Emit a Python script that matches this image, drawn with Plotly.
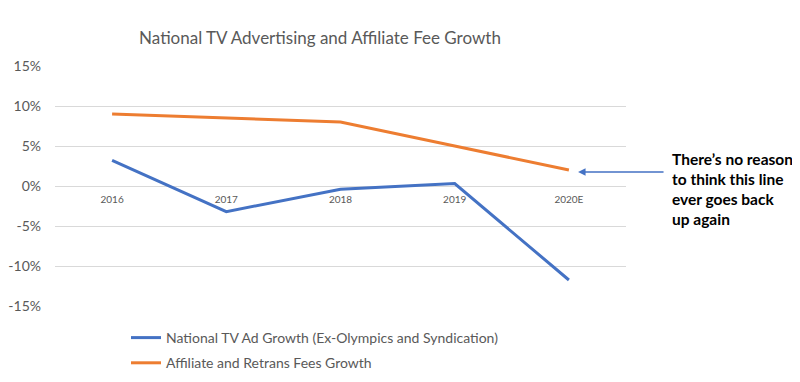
import plotly.graph_objects as go

categories = ["2016", "2017", "2018", "2019", "2020E"]
ad_growth = [3.2, -3.2, -0.4, 0.3, -11.75]
fee_growth = [9.0, 8.5, 8.0, 5.0, 2.0]
y_ticks = [15, 10, 5, 0, -5, -10, -15]
y_tick_labels = ["15%", "10%", "5%", "0%", "-5%", "-10%", "-15%"]

BLUE = "#4472C4"
ORANGE = "#ED7D31"
GREY = "#595959"
FONT = "Lato"

fig = go.Figure()
fig.add_trace(go.Scatter(x=categories, y=ad_growth, mode="lines",
                         name="National TV Ad Growth (Ex-Olympics and Syndication)",
                         legendgroup="a",
                         line=dict(color=BLUE, width=3)))
fig.add_trace(go.Scatter(x=categories, y=fee_growth, mode="lines",
                         name="Affiliate and Retrans Fees Growth",
                         legendgroup="b",
                         line=dict(color=ORANGE, width=3)))

fig.update_layout(
    width=800, height=382,
    margin=dict(l=47, r=182, t=58, b=84, autoexpand=False),
    plot_bgcolor="white", paper_bgcolor="white",
    font=dict(family=FONT, color=GREY, size=13),
    title=dict(text="National TV Advertising and Affiliate Fee Growth",
               x=312 / 800, xref="container", xanchor="center",
               y=1 - 30 / 382, yref="container", yanchor="middle",
               font=dict(size=17, color=GREY, family=FONT)),
    xaxis=dict(type="category", range=[-0.5, 4.5], showgrid=False, zeroline=False,
               showline=False, ticks="", anchor="free", position=0.5,
               tickfont=dict(size=10, color=GREY), ticklabelstandoff=6),
    yaxis=dict(range=[-15, 15], tickvals=y_ticks, ticktext=y_tick_labels,
               showgrid=True, gridcolor="#D9D9D9", gridwidth=1, zeroline=False,
               showline=False, ticks="", tickfont=dict(size=14, color=GREY),
               ticklabelstandoff=13),
    legend=dict(orientation="v", xref="container", x=118 / 800, xanchor="left",
                yref="container", y=1 - 314 / 382, yanchor="top",
                traceorder="grouped",
                font=dict(size=14, color=GREY), tracegroupgap=4,
                bgcolor="rgba(0,0,0,0)"),
    showlegend=True,
)

# arrow pointing at the end of the orange line
fig.add_annotation(x=4.08, y=1.75, xref="x", yref="y", text="", showarrow=True,
                   ax=87, ay=0, axref="pixel", ayref="pixel",
                   arrowhead=2, arrowsize=1, arrowwidth=1.5, arrowcolor=BLUE)
fig.add_annotation(x=1.077, y=0.66, xref="paper", yref="paper", xanchor="left", yanchor="top",
                   text="<b>There’s no reason<br>to think this line<br>ever goes back<br>up again</b>",
                   showarrow=False, align="left",
                   font=dict(size=15.5, color="black", family=FONT))

fig.write_html("out.html")
